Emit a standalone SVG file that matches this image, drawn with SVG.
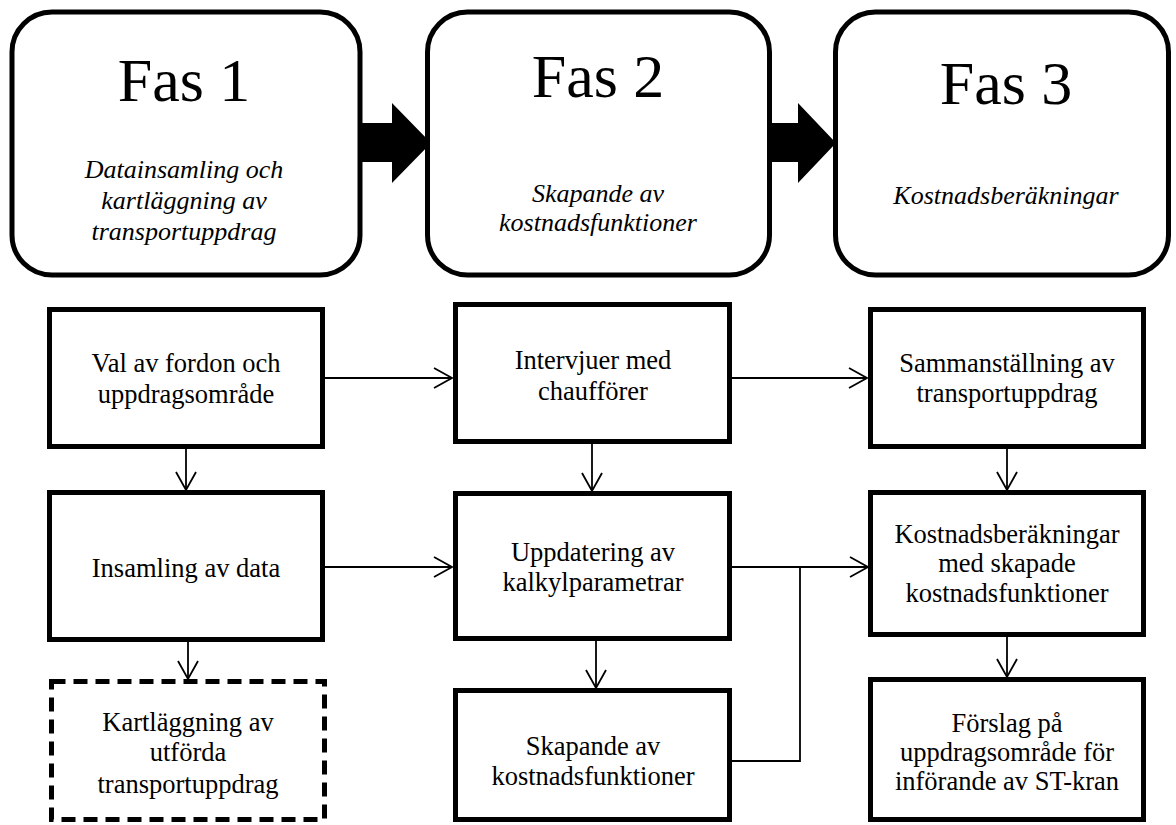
<svg xmlns="http://www.w3.org/2000/svg" width="1176" height="825" viewBox="0 0 1176 825">
<style>
.phase{fill:#fff;stroke:#000;stroke-width:5}
.box{fill:#fff;stroke:#000;stroke-width:5}
.dash{stroke-dasharray:14 8}
.big{font-family:"Liberation Serif","Times New Roman",serif;font-size:62px;text-anchor:middle;fill:#000}
.it{font-family:"Liberation Serif","Times New Roman",serif;font-size:26px;font-style:italic;text-anchor:middle;fill:#000}
.t{font-family:"Liberation Serif","Times New Roman",serif;font-size:26.5px;text-anchor:middle;fill:#000}
.c{fill:none;stroke:#000;stroke-width:1.8}
.ca{fill:none;stroke:#000;stroke-width:1.8;marker-end:url(#ah)}
</style>
<defs>
<marker id="ah" markerUnits="userSpaceOnUse" markerWidth="22" markerHeight="24" refX="19" refY="11" orient="auto" viewBox="0 0 22 24">
<path d="M1,1 L19,11 L1,21" fill="none" stroke="#000" stroke-width="1.8"/>
</marker>
</defs>
<g id="bigarrows">
<polygon points="360,123 392,123 392,103 431,143 392,183 392,162 360,162" fill="#000"/>
<polygon points="770,123 798,123 798,103 836,143 798,183 798,162 770,162" fill="#000"/>
</g>
<g id="fas1">
<rect class="phase" x="12" y="12" width="348" height="263" rx="40"/>
<text class="big" x="184" y="101">Fas 1</text>
<text class="it" x="184" y="178">Datainsamling och</text>
<text class="it" x="184" y="209">kartläggning av</text>
<text class="it" x="184" y="240">transportuppdrag</text>
</g>
<g id="fas2">
<rect class="phase" x="427.5" y="12" width="342" height="263" rx="40"/>
<text class="big" x="598" y="97">Fas 2</text>
<text class="it" x="598" y="202">Skapande av</text>
<text class="it" x="598" y="231">kostnadsfunktioner</text>
</g>
<g id="fas3">
<rect class="phase" x="835.5" y="12" width="333" height="263" rx="40"/>
<text class="big" x="1006" y="104">Fas 3</text>
<text class="it" x="1006" y="204">Kostnadsberäkningar</text>
</g>
<g id="connectors">
<line class="ca" x1="325" y1="378" x2="452" y2="378"/>
<line class="ca" x1="732" y1="378" x2="867" y2="378"/>
<line class="ca" x1="186" y1="449" x2="186" y2="490"/>
<line class="ca" x1="188" y1="642" x2="188" y2="679"/>
<line class="ca" x1="325" y1="567" x2="452" y2="567"/>
<line class="ca" x1="592" y1="444" x2="592" y2="491"/>
<line class="ca" x1="596" y1="641" x2="596" y2="688"/>
<line class="ca" x1="732" y1="567" x2="868" y2="567"/>
<polyline class="c" points="732,761 800,761 800,567"/>
<line class="ca" x1="1007" y1="449" x2="1007" y2="490"/>
<line class="ca" x1="1007" y1="637" x2="1007" y2="677"/>
</g>
<g id="n-val">
<rect class="box" x="49.5" y="309.5" width="273" height="137"/>
<text class="t" x="186" y="372">Val av fordon och</text>
<text class="t" x="186" y="403">uppdragsområde</text>
</g>
<g id="n-insamling">
<rect class="box" x="49.5" y="492.5" width="273" height="147"/>
<text class="t" x="186" y="577">Insamling av data</text>
</g>
<g id="n-kartlaggning">
<rect class="box dash" x="51.5" y="681.5" width="273" height="138"/>
<text class="t" x="188" y="731">Kartläggning av</text>
<text class="t" x="188" y="761">utförda</text>
<text class="t" x="188" y="793">transportuppdrag</text>
</g>
<g id="n-intervjuer">
<rect class="box" x="455.5" y="304.5" width="274" height="137"/>
<text class="t" x="593" y="369">Intervjuer med</text>
<text class="t" x="593" y="400">chaufförer</text>
</g>
<g id="n-uppdatering">
<rect class="box" x="455.5" y="493.5" width="274" height="145"/>
<text class="t" x="593" y="561">Uppdatering av</text>
<text class="t" x="593" y="591">kalkylparametrar</text>
</g>
<g id="n-skapande">
<rect class="box" x="455.5" y="690.5" width="274" height="129"/>
<text class="t" x="593" y="755">Skapande av</text>
<text class="t" x="593" y="785">kostnadsfunktioner</text>
</g>
<g id="n-sammanstallning">
<rect class="box" x="870.5" y="309.5" width="273" height="137"/>
<text class="t" x="1007" y="372">Sammanställning av</text>
<text class="t" x="1007" y="402">transportuppdrag</text>
</g>
<g id="n-kostnadsberakningar">
<rect class="box" x="870.5" y="492.5" width="273" height="142"/>
<text class="t" x="1007" y="543">Kostnadsberäkningar</text>
<text class="t" x="1007" y="572">med skapade</text>
<text class="t" x="1007" y="602">kostnadsfunktioner</text>
</g>
<g id="n-forslag">
<rect class="box" x="870.5" y="679.5" width="273" height="140"/>
<text class="t" x="1007" y="732">Förslag på</text>
<text class="t" x="1007" y="761">uppdragsområde för</text>
<text class="t" x="1007" y="790">införande av ST-kran</text>
</g>
</svg>
